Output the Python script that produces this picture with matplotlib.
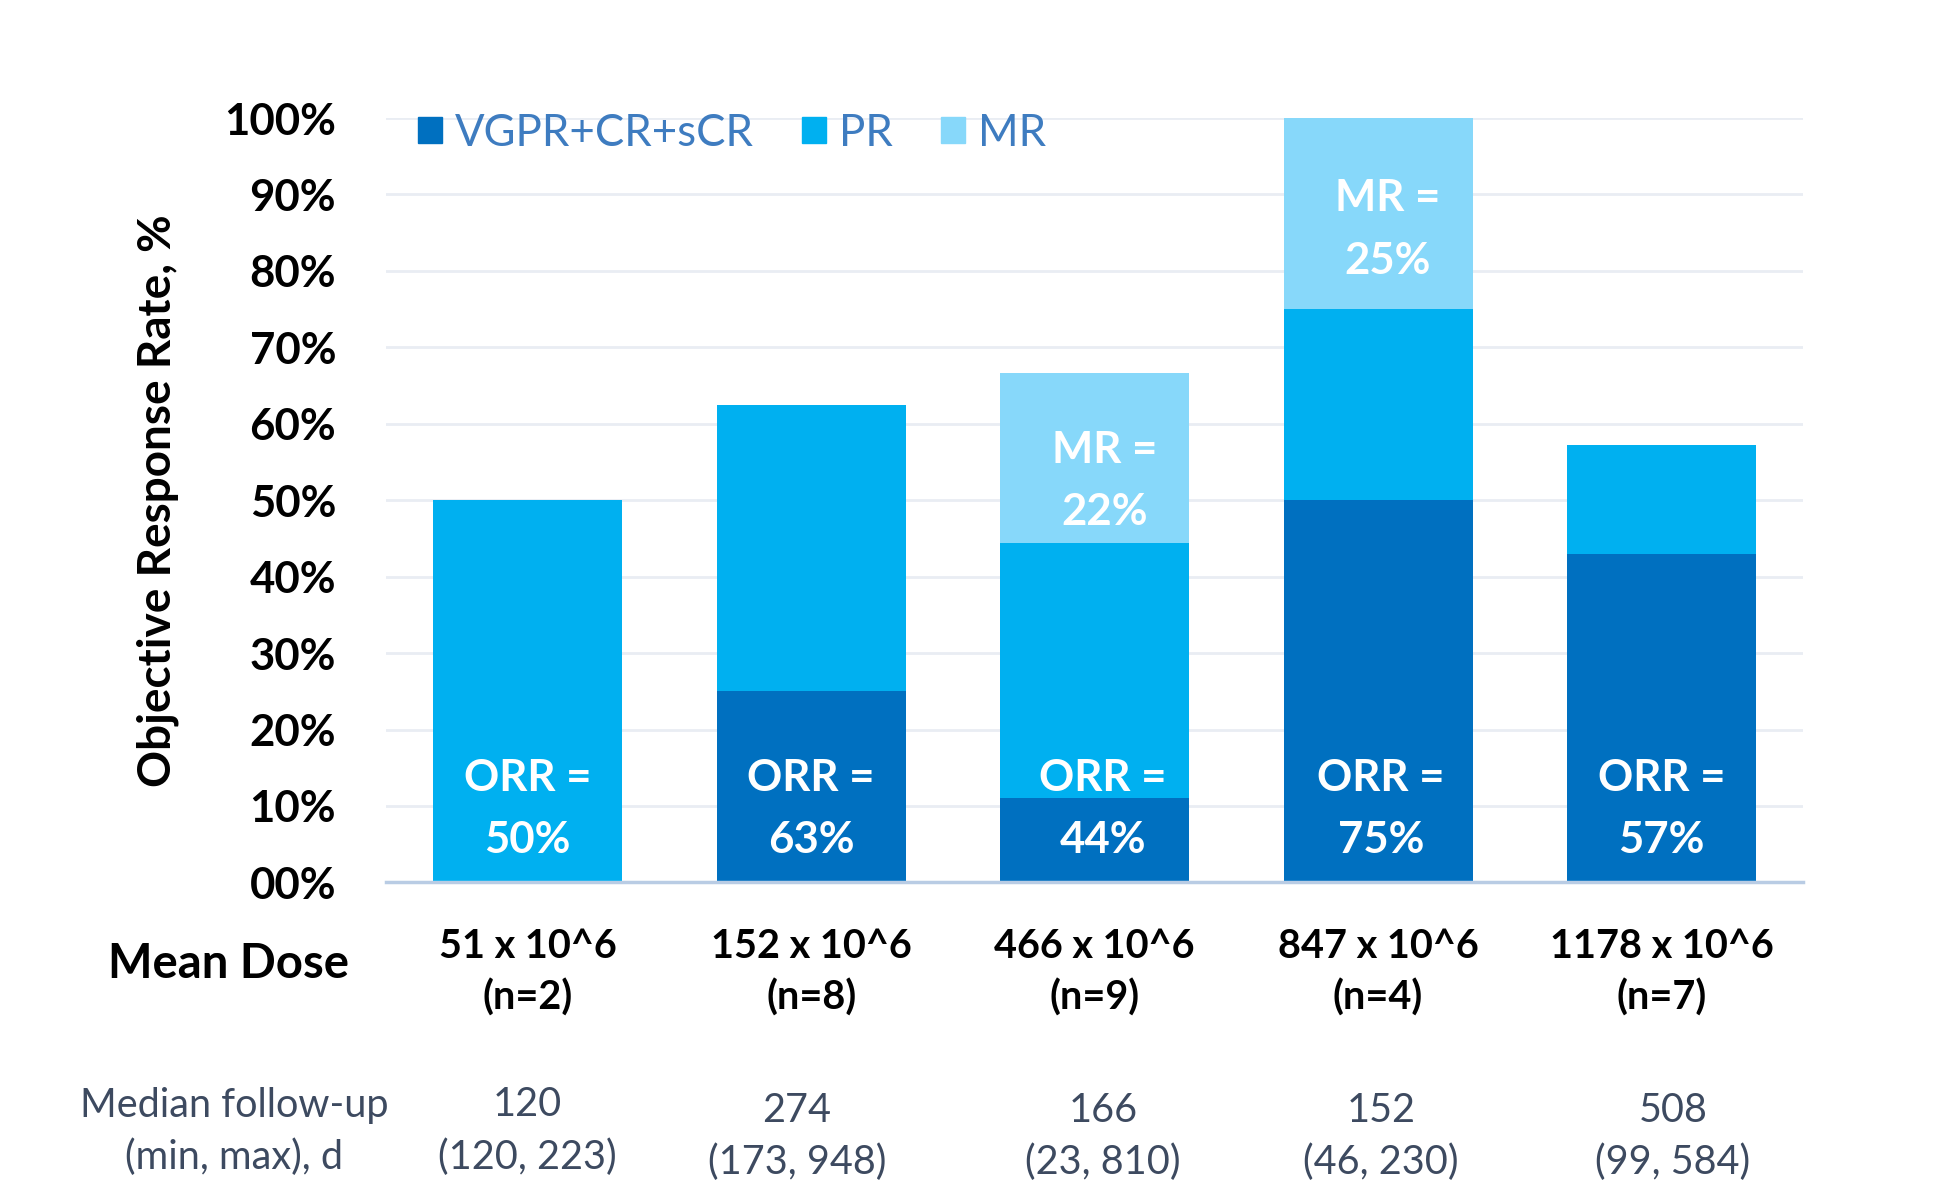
import matplotlib
matplotlib.use("Agg")
import matplotlib.pyplot as plt
from matplotlib.patches import Patch
from matplotlib.transforms import blended_transform_factory

# ---- data ----
dose_labels = ["51 x 10^6", "152 x 10^6", "466 x 10^6", "847 x 10^6", "1178 x 10^6"]
n_labels = ["(n=2)", "(n=8)", "(n=9)", "(n=4)", "(n=7)"]
vgpr = [0.0, 25.0, 11.1, 50.0, 42.9]
pr = [50.0, 37.5, 33.3, 25.0, 14.3]
mr = [0.0, 0.0, 22.2, 25.0, 0.0]
orr_labels = ["50%", "63%", "44%", "75%", "57%"]
mr_labels = ["", "", "22%", "25%", ""]
fu_median = ["120", "274", "166", "152", "508"]
fu_range = ["(120, 223)", "(173, 948)", "(23, 810)", "(46, 230)", "(99, 584)"]
yticks = [0, 10, 20, 30, 40, 50, 60, 70, 80, 90, 100]
series_names = ["VGPR+CR+sCR", "PR", "MR"]

# ---- style ----
C_VGPR = "#0070C0"
C_PR = "#00B0F0"
C_MR = "#87D8FA"
FU_COLOR = "#3D4A60"
plt.rcParams["font.family"] = ["Lato", "DejaVu Sans"]

fig = plt.figure(figsize=(19.5, 12.01), dpi=100)
ax = fig.add_axes([0.198, 0.2653, 0.7267, 0.6364])

x = list(range(len(dose_labels)))
w = 0.667
bottom2 = [a + b for a, b in zip(vgpr, pr)]
ax.bar(x, vgpr, w, color=C_VGPR, zorder=2)
ax.bar(x, pr, w, bottom=vgpr, color=C_PR, zorder=2)
ax.bar(x, mr, w, bottom=bottom2, color=C_MR, zorder=2)

ax.set_xlim(-0.5, 4.5)
ax.set_ylim(0, 100)
ax.set_yticks(yticks)
ax.set_yticklabels(["00%" if v == 0 else f"{v}%" for v in yticks],
                   fontsize=31.5, fontweight="bold", color="black")
ax.tick_params(axis="y", length=0, pad=36)
ax.set_xticks([])
for s in ["top", "right", "left"]:
    ax.spines[s].set_visible(False)
ax.spines["bottom"].set_color("#B9CCE4")
ax.spines["bottom"].set_linewidth(2.5)
ax.grid(axis="y", color="#E9EDF3", linewidth=2, zorder=0)
ax.set_axisbelow(True)

ax.set_ylabel("Objective Response Rate, %", fontsize=33, fontweight="bold")
ax.yaxis.set_label_coords(-0.146, 0.5)

# in-bar labels
orr_dx = [0.0, 0.0, 0.03, 0.01, 0.0]
mr_dy = [0.0, 0.0, -3.0, -2.1, 0.0]
for i in x:
    ax.text(i + orr_dx[i], 13.6, "ORR =", ha="center", va="center", color="white",
            fontsize=31.5, fontweight="bold", zorder=3)
    ax.text(i + orr_dx[i], 5.5, orr_labels[i], ha="center", va="center", color="white",
            fontsize=31.5, fontweight="bold", zorder=3)
    if mr[i] > 0:
        yc = bottom2[i] + mr[i] / 2 + mr_dy[i]
        ax.text(i + 0.035, yc + 4.1, "MR =", ha="center", va="center", color="white",
                fontsize=31.5, fontweight="bold", zorder=3)
        ax.text(i + 0.035, yc - 4.1, mr_labels[i], ha="center", va="center", color="white",
                fontsize=31.5, fontweight="bold", zorder=3)

# legend
handles = [Patch(color=c) for c in (C_VGPR, C_PR, C_MR)]
leg = ax.legend(handles, series_names, loc="upper left", ncol=3, frameon=False,
                bbox_to_anchor=(0.01, 1.03), fontsize=31.5,
                handlelength=0.55, handleheight=0.55, handletextpad=0.3,
                columnspacing=1.1, borderaxespad=0)
for t in leg.get_texts():
    t.set_color("#3E7CC0")

# below-axis labels
trans = blended_transform_factory(ax.transData, fig.transFigure)
fig.text(0.1174, 1 - 964 / 1201, "Mean Dose", ha="center", va="center",
         fontsize=34, fontweight="bold")
fig.text(0.12, 1 - 1105 / 1201, "Median follow-up", ha="center", va="center",
         fontsize=28.5, color=FU_COLOR)
fig.text(0.12, 1 - 1157 / 1201, "(min, max), d", ha="center", va="center",
         fontsize=28.5, color=FU_COLOR)
fu_dx = [0.0, -0.05, 0.03, 0.01, 0.04]
for i in x:
    ax.text(i, 1 - 946 / 1201, dose_labels[i], transform=trans, ha="center",
            va="center", fontsize=28.5, fontweight="bold")
    ax.text(i, 1 - 998 / 1201, n_labels[i], transform=trans, ha="center",
            va="center", fontsize=28.5, fontweight="bold")
    yoff = 0 if i == 0 else 5
    ax.text(i + fu_dx[i], 1 - (1105 + yoff) / 1201, fu_median[i], transform=trans,
            ha="center", va="center", fontsize=28.5, color=FU_COLOR)
    ax.text(i + fu_dx[i], 1 - (1157 + yoff) / 1201, fu_range[i], transform=trans,
            ha="center", va="center", fontsize=28.5, color=FU_COLOR)

fig.savefig("out.png", dpi=100, facecolor="white")
